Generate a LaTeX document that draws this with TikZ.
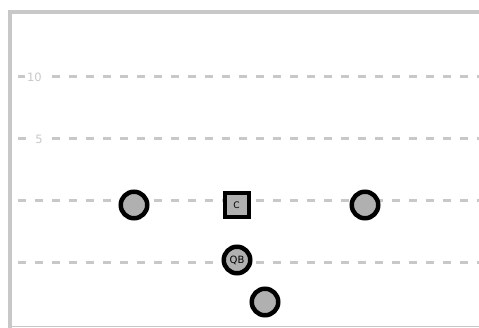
\documentclass[tikz,border=0pt]{standalone}
\usepackage{fontspec}
\setmainfont{DejaVu Sans}
\usepackage{xcolor}
\usepackage{tikz}
\usetikzlibrary{positioning}
\definecolor{fieldgray}{HTML}{C8C8C8}
\definecolor{playergray}{HTML}{B0B0B0}
\tikzset{
  % Field styles
  border/.style={draw=fieldgray, line width=4pt},
  yardline/.style={draw=fieldgray, line width=3pt, dash pattern=on 8pt off 9pt},
  yardlabel/.style={anchor=east, fill=white, inner sep=2pt, text=fieldgray, font=\fontsize{11.5}{12}\selectfont},
  % Player styles
  player/.style={circle, minimum size=26.5pt, inner sep=0pt, draw=black, line width=4.5pt, fill=playergray, font=\fontsize{10}{10}\selectfont},
  center/.style={rectangle, minimum size=24pt, inner sep=0pt, draw=black, line width=4pt, fill=playergray, font=\fontsize{9}{9}\selectfont},
}

\begin{document}
\begin{tikzpicture}[x=1pt, y=-1pt]
    \useasboundingbox (0,0) rectangle (479,328);
    % Y positions of the yard lines
    \def\yTen{77} \def\yFive{139} \def\yLos{201} \def\yBack{263}
    % Field border
    \draw[draw=fieldgray, line width=1pt] (12,326.5) -- (479,326.5);
    \draw[border] (10,328) -- (10,12) -- (479,12);
    % Yard lines
    \foreach \y in {\yTen, \yFive, \yLos, \yBack} {
      \draw[yardline] (18,\y) -- (479,\y);
    }
    \node[yardlabel] (ten) at (44,\yTen) {10};
    \node[yardlabel] (five) at (45,\yFive) {5};
    % Offense
    \node[player] (lwr) at (134,205) {};
    \node[center] (ctr) at (236.5,205) {C};
    \node[player] (rwr) at (365,205) {};
    \node[player] (qb) at (237,260) {QB};
    \node[player] (rb) at (265,302) {};
  \end{tikzpicture}
\end{document}
